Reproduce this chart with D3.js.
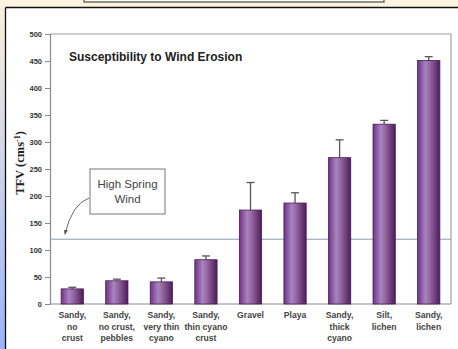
<!DOCTYPE html>
<html>
<head>
<meta charset="utf-8">
<script src="https://cdn.jsdelivr.net/npm/d3@7/dist/d3.min.js"></script>
<style>
  html, body { margin: 0; padding: 0; background: #fff; }
  svg { display: block; }
</style>
</head>
<body>
<svg id="chart" width="458" height="349"></svg>
<script>
// Threshold friction velocity by surface type
const categories = [
  ["Sandy,", "no", "crust"],
  ["Sandy,", "no crust,", "pebbles"],
  ["Sandy,", "very thin", "cyano"],
  ["Sandy,", "thin cyano", "crust"],
  ["Gravel"],
  ["Playa"],
  ["Sandy,", "thick", "cyano"],
  ["Silt,", "lichen"],
  ["Sandy,", "lichen"]
];
const values = [28, 43, 41, 82, 174, 187, 271, 333, 451];
const errors = [3, 3, 7, 7, 51, 19, 33, 7, 7];
const yTicks = [0, 50, 100, 150, 200, 250, 300, 350, 400, 450, 500];
const windThreshold = 120;

const svg = d3.select("#chart");
const W = 458, H = 349;

// page frame: beige top strip, gradient left strip
const defs = svg.append("defs");
const side = defs.append("linearGradient").attr("id", "side").attr("x1", 0).attr("y1", 0).attr("x2", 0).attr("y2", 1);
side.append("stop").attr("offset", "0%").attr("stop-color", "#fdf1dc");
side.append("stop").attr("offset", "100%").attr("stop-color", "#9cb2fb");

svg.append("rect").attr("x", 0).attr("y", 0).attr("width", W).attr("height", H).attr("fill", "url(#side)");
svg.append("rect").attr("x", 0).attr("y", 0).attr("width", W).attr("height", 8).attr("fill", "#fdf3e0");
svg.append("rect").attr("x", 84).attr("y", -6).attr("width", 300).attr("height", 8)
  .attr("fill", "#fffaf0").attr("stroke", "#5a5a5a").attr("stroke-width", 1.3);
svg.append("rect").attr("x", 6).attr("y", 8).attr("width", W - 6).attr("height", H - 8).attr("fill", "#fff");
svg.append("line").attr("x1", 5.5).attr("x2", W).attr("y1", 7.5).attr("y2", 7.5).attr("stroke", "#111").attr("stroke-width", 1.3);
svg.append("line").attr("x1", 5.5).attr("x2", 5.5).attr("y1", 7.5).attr("y2", H).attr("stroke", "#111").attr("stroke-width", 1.3);

// plot geometry
const m = { left: 50, right: 451, top: 34, bottom: 304 };
const x = d3.scaleBand().domain(d3.range(categories.length)).range([m.left, m.right]).paddingInner(0.5).paddingOuter(0.25);
const y = d3.scaleLinear().domain([0, 500]).range([m.bottom, m.top]);

// bar shading
const bg = defs.append("linearGradient").attr("id", "barGrad").attr("x1", 0).attr("y1", 0).attr("x2", 1).attr("y2", 0);
[["0%", "#6e3482"], ["35%", "#a883c1"], ["55%", "#94679f"], ["100%", "#4d1b5c"]]
  .forEach(([o, c]) => bg.append("stop").attr("offset", o).attr("stop-color", c));

// frame (top, right)
svg.append("path")
  .attr("d", `M${m.left},${m.top}H${m.right}V${m.bottom}`)
  .attr("fill", "none").attr("stroke", "#a0a0a0").attr("stroke-width", 1.2);

// y axis
const yAxis = d3.axisLeft(y).tickValues(yTicks).tickSize(5).tickPadding(3);
const gy = svg.append("g").attr("transform", `translate(${m.left},0)`).call(yAxis);
gy.select(".domain").attr("stroke", "#8a8a8a").attr("stroke-width", 1.2);
gy.selectAll(".tick line").attr("stroke", "#8a8a8a");
gy.selectAll(".tick text")
  .attr("fill", "#333").attr("font-family", "'Liberation Sans Narrow','Arial Narrow','Liberation Sans',sans-serif")
  .attr("font-weight", "bold").attr("font-size", 7.5);

// x axis baseline
svg.append("line").attr("x1", m.left).attr("x2", m.right).attr("y1", m.bottom).attr("y2", m.bottom)
  .attr("stroke", "#8a8a8a").attr("stroke-width", 1.2);

// threshold line
svg.append("line").attr("x1", m.left).attr("x2", m.right)
  .attr("y1", y(windThreshold)).attr("y2", y(windThreshold))
  .attr("stroke", "#8a9bb0").attr("stroke-width", 1);

// error bars
const eb = svg.append("g").attr("stroke", "#555").attr("stroke-width", 1.3);
values.forEach((v, i) => {
  const cx = x(i) + x.bandwidth() / 2;
  eb.append("line").attr("x1", cx).attr("x2", cx).attr("y1", y(v)).attr("y2", y(v + errors[i]));
  eb.append("line").attr("x1", cx - 4).attr("x2", cx + 4).attr("y1", y(v + errors[i])).attr("y2", y(v + errors[i]));
});

// bars
svg.append("g").selectAll("rect").data(values).join("rect")
  .attr("x", (d, i) => x(i))
  .attr("y", d => y(d))
  .attr("width", x.bandwidth())
  .attr("height", d => y(0) - y(d))
  .attr("fill", "url(#barGrad)")
  .attr("stroke", "#4a1d58").attr("stroke-width", 0.8);

// category labels
const lab = svg.append("g")
  .attr("font-family", "'Liberation Sans Narrow','Arial Narrow','Liberation Sans',sans-serif")
  .attr("font-weight", "bold").attr("font-size", 8.6).attr("fill", "#444").attr("text-anchor", "middle");
categories.forEach((lines, i) => {
  const cx = x(i) + x.bandwidth() / 2;
  lines.forEach((t, j) => {
    lab.append("text").attr("x", cx).attr("y", 318 + j * 11.5).text(t);
  });
});

// chart title
svg.append("text").attr("x", 69).attr("y", 61)
  .attr("font-family", "'Liberation Sans',Arial,sans-serif").attr("font-weight", "bold")
  .attr("font-size", 12).attr("fill", "#222").text("Susceptibility to Wind Erosion");

// y title
const yt = svg.append("text")
  .attr("transform", `translate(24,${(m.top + m.bottom) / 2 - 6}) rotate(-90)`)
  .attr("text-anchor", "middle")
  .attr("font-family", "'Liberation Serif','Times New Roman',serif").attr("font-weight", "bold")
  .attr("font-size", 12.5).attr("fill", "#222");
yt.append("tspan").text("TFV (cms");
yt.append("tspan").attr("font-size", 8).attr("dy", -4).text("-1");
yt.append("tspan").attr("dy", 4).text(")");

// annotation
svg.append("rect").attr("x", 90).attr("y", 169).attr("width", 75).attr("height", 45)
  .attr("fill", "#fff").attr("stroke", "#777").attr("stroke-width", 1);
const ann = svg.append("g").attr("font-family", "'Liberation Sans',Arial,sans-serif")
  .attr("font-size", 11.5).attr("fill", "#444").attr("text-anchor", "middle");
ann.append("text").attr("x", 127.5).attr("y", 188).text("High Spring");
ann.append("text").attr("x", 127.5).attr("y", 203).text("Wind");

defs.append("marker").attr("id", "arr").attr("viewBox", "0 0 10 10").attr("refX", 8).attr("refY", 5)
  .attr("markerWidth", 5).attr("markerHeight", 5).attr("orient", "auto")
  .append("path").attr("d", "M0,1L10,5L0,9Z").attr("fill", "#555");
svg.append("path").attr("d", "M89,198 Q72,204 65,234")
  .attr("fill", "none").attr("stroke", "#666").attr("stroke-width", 1)
  .attr("marker-end", "url(#arr)");
</script>
</body>
</html>
